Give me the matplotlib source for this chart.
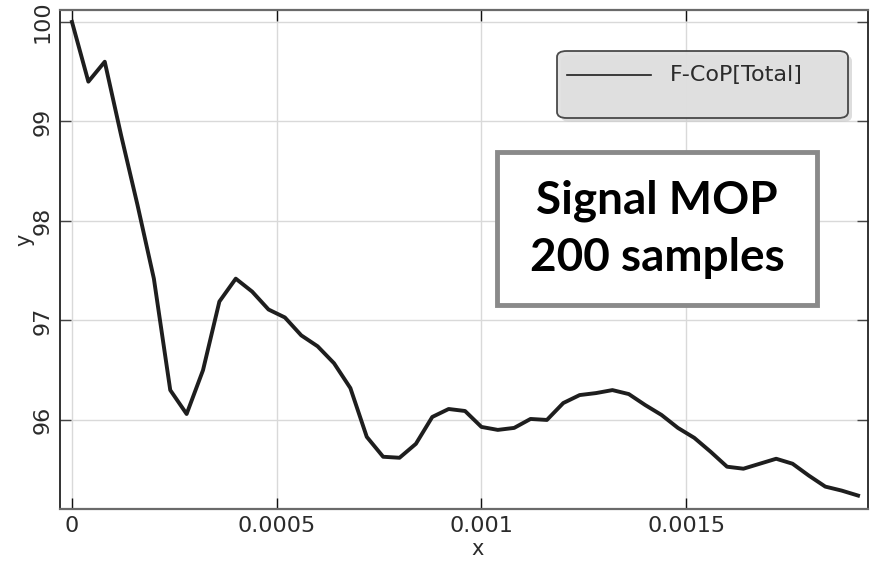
import matplotlib
matplotlib.use("Agg")
import matplotlib.pyplot as plt
from matplotlib.patches import FancyBboxPatch, Rectangle
from matplotlib.lines import Line2D

# sample times in microseconds and the total F-CoP values
t_us = [0, 40, 80, 120, 160, 200, 240, 280, 320, 360,
        400, 440, 480, 520, 560, 600, 640, 680, 720, 760,
        800, 840, 880, 920, 960, 1000, 1040, 1080, 1120, 1160,
        1200, 1240, 1280, 1320, 1360, 1400, 1440, 1480, 1520, 1560,
        1600, 1640, 1680, 1720, 1760, 1800, 1840, 1880, 1920]
fcop = [100.00, 99.40, 99.60, 98.86, 98.16, 97.42, 96.30, 96.06, 96.50, 97.19,
        97.42, 97.29, 97.11, 97.03, 96.85, 96.74, 96.57, 96.32, 95.83, 95.63,
        95.62, 95.76, 96.03, 96.11, 96.09, 95.93, 95.90, 95.92, 96.01, 96.00,
        96.17, 96.25, 96.27, 96.30, 96.26, 96.15, 96.05, 95.92, 95.82, 95.68,
        95.53, 95.51, 95.56, 95.61, 95.56, 95.44, 95.33, 95.29, 95.24]

x_ticks = [0, 0.0005, 0.001, 0.0015]
x_tick_labels = ["0", "0.0005", "0.001", "0.0015"]
y_ticks = [96, 97, 98, 99, 100]
y_tick_labels = ["96", "97", "98", "99", "100"]

x = [t * 1e-6 for t in t_us]

fig = plt.figure(figsize=(8.71, 5.61), dpi=100)
W, H = 871, 561
ax = fig.add_axes([60 / W, 1 - 509 / H, 808 / W, 499 / H])

ax.plot(x, fcop, color="#1e1e1e", lw=2.8, solid_joinstyle="round", zorder=3)

ax.set_xlim(-0.0000293, 0.0019443)
ax.set_ylim(95.105, 100.12)

ax.set_xticks(x_ticks)
ax.set_xticklabels(x_tick_labels)
ax.set_yticks(y_ticks)
ax.set_yticklabels(y_tick_labels, rotation=90, va="center")

ax.grid(True, color="#d9d9d9", lw=1.0, zorder=0)
ax.set_axisbelow(True)

ax.tick_params(direction="in", length=8, width=1.0, top=True, right=True,
               labelsize=16, labelcolor="#2b2b2b", pad=5)
ax.tick_params(axis="y", colors="#444444", labelcolor="#2b2b2b")
ax.tick_params(axis="x", colors="#111111", labelcolor="#2b2b2b")

for side in ["left", "right"]:
    ax.spines[side].set_color("#222222")
    ax.spines[side].set_linewidth(1.3)
for side in ["top", "bottom"]:
    ax.spines[side].set_color("#6a6a6a")
    ax.spines[side].set_linewidth(1.6)

ax.set_xlabel("x", fontsize=15, color="#2b2b2b")
ax.set_ylabel("y", fontsize=15, color="#2b2b2b")
ax.xaxis.set_label_coords(0.517, -0.060)
ax.yaxis.set_label_coords(-0.032, 0.54)

# legend box drawn by hand so it keeps its wide, rounded look
def ax_pt(px, py):
    return ((px - 60) / 808, (509 - py) / 499)

lx0, ly0 = ax_pt(557, 118)
lx1, ly1 = ax_pt(848, 51)
sx, sy = 4 / 808, 4 / 499
shadow = FancyBboxPatch((lx0 + sx, ly0 - sy), lx1 - lx0, ly1 - ly0,
                        boxstyle="round,pad=0,rounding_size=0.012",
                        transform=ax.transAxes, facecolor="#cfcfcf",
                        edgecolor="none", alpha=0.7, zorder=4)
box = FancyBboxPatch((lx0, ly0), lx1 - lx0, ly1 - ly0,
                     boxstyle="round,pad=0,rounding_size=0.012",
                     transform=ax.transAxes, facecolor="#e0e0e0",
                     edgecolor="#3c3c3c", lw=1.3, alpha=0.92, zorder=5)
ax.add_patch(shadow)
ax.add_patch(box)
hx0, hy = ax_pt(567, 75)
hx1, _ = ax_pt(651, 75)
ax.add_line(Line2D([hx0, hx1], [hy, hy], color="#1e1e1e", lw=1.2,
                   transform=ax.transAxes, zorder=6))
tx, ty = ax_pt(670, 75)
ax.text(tx, ty, "F-CoP[Total]", transform=ax.transAxes, fontsize=16,
        color="#2b2b2b", ha="left", va="center", zorder=6)

# annotation panel
bx0, by0 = ax_pt(497, 305)
bx1, by1 = ax_pt(817, 152)
ax.add_patch(Rectangle((bx0, by0), bx1 - bx0, by1 - by0, transform=ax.transAxes,
                       facecolor="white", edgecolor="#8a8a8a", lw=3.5, zorder=5))
cx, cy = ax_pt(657, 229)
ax.text(cx, cy, "Signal MOP\n200 samples", transform=ax.transAxes,
        fontsize=33, fontweight="bold", family="Lato", color="black",
        ha="center", va="center", linespacing=1.45, zorder=6)

fig.savefig("out.png", dpi=100)
